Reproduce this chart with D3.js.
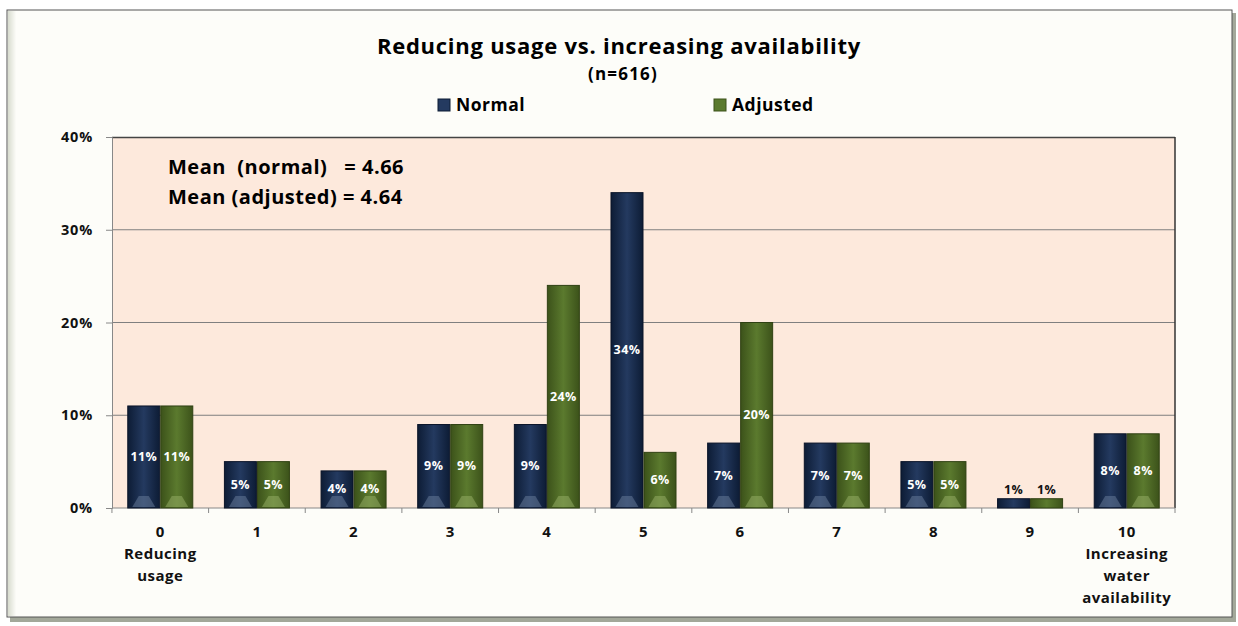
<!DOCTYPE html>
<html><head><meta charset="utf-8">
<script src="https://cdn.jsdelivr.net/npm/d3@7/dist/d3.min.js"></script>
<style>
html,body{margin:0;padding:0;background:#fff;}
svg{display:block;font-family:"Open Sans",Lato,sans-serif;}
</style></head>
<body><svg id="c" width="1238" height="626"></svg>
<script>
const categories = ["0","1","2","3","4","5","6","7","8","9","10"];
const subLabels = [["Reducing","usage"],[],[],[],[],[],[],[],[],[],["Increasing","water","availability"]];
const seriesNames = ["Normal","Adjusted"];
const normalValues = [11,5,4,9,9,34,7,7,5,1,8];
const adjustedValues = [11,5,4,9,24,6,20,7,5,1,8];
const yTicks = [0,10,20,30,40];
const titleText = "Reducing usage vs. increasing availability";
const subtitleText = "(n=616)";
const meanLines = ["Mean  (normal)   = 4.66","Mean (adjusted) = 4.64"];

const svg = d3.select("#c");
const defs = svg.append("defs");

const sh = defs.append("linearGradient").attr("id","lsh").attr("x1",0).attr("x2",1);
sh.append("stop").attr("offset",0).attr("stop-color","#d8dccf");
sh.append("stop").attr("offset",1).attr("stop-color","#fcfcf8");
svg.append("rect").attr("x",10).attr("y",13).attr("width",1226).attr("height",609).attr("fill","#a3a89a");
svg.append("rect").attr("x",7).attr("y",10).attr("width",1225).attr("height",607).attr("fill","#fdfdf9").attr("stroke","#555").attr("stroke-width",1);
svg.append("rect").attr("x",8).attr("y",11).attr("width",8).attr("height",605).attr("fill","url(#lsh)");

const colors = {Normal:["#0d1c35","#243a60","#0d1c35"], Adjusted:["#3c521a","#5b7a2e","#3c521a"]};
seriesNames.forEach(s=>{
  const g = defs.append("linearGradient").attr("id","g"+s).attr("x1",0).attr("x2",1);
  g.append("stop").attr("offset",0).attr("stop-color",colors[s][0]);
  g.append("stop").attr("offset",0.5).attr("stop-color",colors[s][1]);
  g.append("stop").attr("offset",1).attr("stop-color",colors[s][2]);
});

const pLeft=112, pRight=1175, pTop=137, pBottom=508;
const x0 = d3.scaleBand().domain(categories).range([pLeft,pRight]).paddingInner(0.317).paddingOuter(0.158);
const x1 = d3.scaleBand().domain(seriesNames).range([0,x0.bandwidth()]).padding(0);
const y = d3.scaleLinear().domain([0,40]).range([pBottom,pTop]);

svg.append("rect").attr("x",pLeft).attr("y",pTop).attr("width",pRight-pLeft).attr("height",pBottom-pTop).attr("fill","#fde9dc");
svg.append("g").selectAll("line").data(yTicks.filter(t=>t>0&&t<40)).join("line")
  .attr("x1",pLeft).attr("x2",pRight).attr("y1",d=>y(d)).attr("y2",d=>y(d)).attr("stroke","#7f7f7f").attr("stroke-width",1);
svg.append("line").attr("x1",pLeft).attr("x2",pRight).attr("y1",pTop+0.5).attr("y2",pTop+0.5).attr("stroke","#444").attr("stroke-width",1.5);
svg.append("line").attr("x1",pRight).attr("x2",pRight).attr("y1",pTop).attr("y2",pBottom).attr("stroke","#333").attr("stroke-width",1.5);

const yAxis = d3.axisLeft(y).tickValues(yTicks).tickSize(6).tickFormat(d=>d+"%");
const ya = svg.append("g").attr("transform",`translate(${pLeft},0)`).call(yAxis);
ya.attr("font-family",null);
ya.select(".domain").attr("stroke","#888");
ya.selectAll(".tick line").attr("stroke","#888");
ya.selectAll("text").attr("x",-19).attr("font-size",14.5).attr("letter-spacing",0.8).attr("font-weight","bold").attr("fill","#111");

const xa = svg.append("g").attr("transform",`translate(0,${pBottom})`);
xa.append("line").attr("x1",pLeft).attr("x2",pRight).attr("stroke","#888");
const bounds = categories.map(c=>x0(c)-x0.step()*x0.paddingInner()/2).concat([pRight]);
xa.selectAll(".tk").data(bounds).join("line").attr("class","tk").attr("x1",d=>d).attr("x2",d=>d).attr("y1",0).attr("y2",5).attr("stroke","#888");
const xl = xa.selectAll(".xl").data(categories).join("text").attr("class","xl")
  .attr("text-anchor","middle").attr("font-size",15).attr("letter-spacing",0.5).attr("font-weight","bold").attr("fill","#111");
xl.each(function(d,i){
  const t=d3.select(this);
  [d].concat(subLabels[i]).forEach((s,j)=>t.append("tspan").attr("x",x0(d)+x0.bandwidth()/2).attr("y",29+j*22).text(s));
});

const data = categories.map((c,i)=>({c, vals:[{s:"Normal",v:normalValues[i]},{s:"Adjusted",v:adjustedValues[i]}]}));
const grp = svg.append("g").selectAll("g").data(data).join("g").attr("transform",d=>`translate(${x0(d.c)},0)`);
const bar = grp.selectAll("g").data(d=>d.vals).join("g");
bar.append("rect").attr("x",d=>x1(d.s)+0.5).attr("y",d=>y(d.v)).attr("width",x1.bandwidth()-1).attr("height",d=>pBottom-y(d.v))
  .attr("fill",d=>`url(#g${d.s})`).attr("stroke",d=>d.s==="Normal"?"#0a1428":"#2f4113").attr("stroke-width",1);
bar.filter(d=>pBottom-y(d.v)>12).append("path").attr("d",d=>{
  const xs=x1(d.s), w=x1.bandwidth();
  return `M${xs+5},${pBottom-1} L${xs+w/2-5},${pBottom-12} L${xs+w/2+5},${pBottom-12} L${xs+w-5},${pBottom-1} Z`;
}).attr("fill",d=>d.s==="Normal"?"#6a7d9c":"#98b067").attr("opacity",0.5);
bar.append("text").attr("x",d=>x1(d.s)+x1.bandwidth()/2)
  .attr("y",d=>d.v<3 ? y(d.v)-5 : (y(d.v)+pBottom)/2+4)
  .attr("text-anchor","middle").attr("font-size",12.5).attr("letter-spacing",0.4).attr("font-weight","bold")
  .attr("fill",d=>d.v<3?"#111":"#fff").text(d=>d.v+"%");

svg.append("text").attr("x",619).attr("y",54).attr("text-anchor","middle").attr("font-size",22).attr("letter-spacing",0.75).attr("font-weight","bold").attr("fill","#000").text(titleText);
svg.append("text").attr("x",623).attr("y",80).attr("text-anchor","middle").attr("font-size",17).attr("letter-spacing",1.2).attr("font-weight","bold").attr("fill","#000").text(subtitleText);

const legX = {Normal:438, Adjusted:714};
const lg = svg.append("g").selectAll("g").data(seriesNames).join("g");
lg.append("rect").attr("x",d=>legX[d]).attr("y",99).attr("width",12).attr("height",12).attr("fill",d=>colors[d][1]).attr("stroke",d=>colors[d][0]);
lg.append("text").attr("x",d=>legX[d]+18).attr("y",111).attr("font-size",17.5).attr("letter-spacing",0.5).attr("font-weight","bold").attr("fill","#000").text(d=>d);

svg.append("g").selectAll("text").data(meanLines).join("text").attr("x",168).attr("y",(d,i)=>174+i*30)
  .attr("font-size",20).attr("letter-spacing",0.5).attr("font-weight","bold").attr("fill","#000").style("white-space","pre").text(d=>d);
</script></body></html>
